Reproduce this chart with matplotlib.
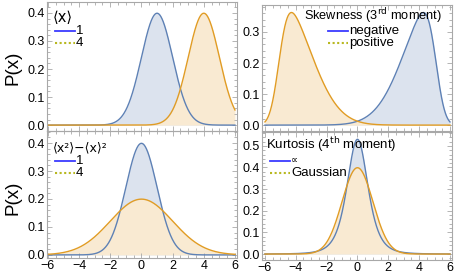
import math
import numpy as np
import matplotlib
matplotlib.use('Agg')
import matplotlib.pyplot as plt
from matplotlib.ticker import MultipleLocator

# ---------------- data ----------------
x_ticks = [-6, -4, -2, 0, 2, 4, 6]
# panel 1: mean
mean_labels = ['1', '4']
mean_mu = [1.0, 4.0]
mean_sd = [1.0, 1.0]
# panel 2: skewness (skew-normal location, scale, shape)
skew_labels = ['negative', 'positive']
skew_loc = [5.08, -5.08]
skew_scale = [1.92, 1.92]
skew_shape = [-4.0, 4.0]
# panel 3: variance
var_labels = ['1', '4']
var_mu = [0.0, 0.0]
var_var = [1.0, 4.0]
# panel 4: kurtosis (unit-variance Student t, dof; inf = Gaussian)
kurt_labels = ['\u221d', 'Gaussian']
kurt_dof = [4.0, np.inf]

# ---------------- style ----------------
C_BLUE = '#5e81b5'
C_ORANGE = '#e19c24'
F_BLUE = '#dce3ee'
F_ORANGE = '#f9ead2'
LEG_BLUE = '#3a3aff'
LEG_YEL = '#b8b820'
FRAME = '#a8a8a8'
FONT = ['Liberation Sans', 'DejaVu Sans']
plt.rcParams['font.family'] = FONT

W, H = 460, 276
fig = plt.figure(figsize=(W / 100, H / 100), dpi=100)


def ax_px(l, t, r, b):
    return fig.add_axes([l / W, 1 - b / H, (r - l) / W, (b - t) / H])


def ftext(x, y, s, **kw):
    kw.setdefault('va', 'center')
    kw.setdefault('ha', 'left')
    fig.text(x / W, 1 - y / H, s, **kw)


def fline(x0, x1, y, **kw):
    fig.add_artist(plt.Line2D([x0 / W, x1 / W], [1 - y / H, 1 - y / H], **kw))


def gauss(x, mu, var):
    return np.exp(-(x - mu) ** 2 / (2 * var)) / np.sqrt(2 * np.pi * var)


erf_v = np.vectorize(math.erf)


def skewnorm(x, loc, scale, a):
    z = (x - loc) / scale
    phi = np.exp(-z * z / 2) / np.sqrt(2 * np.pi)
    Phi = 0.5 * (1 + erf_v(a * z / np.sqrt(2)))
    return 2 * phi * Phi / scale


def t_unit(x, nu):
    if np.isinf(nu):
        return gauss(x, 0, 1)
    s = math.sqrt((nu - 2) / nu)
    z = x / s
    c = math.gamma((nu + 1) / 2) / (math.sqrt(nu * math.pi) * math.gamma(nu / 2))
    return c * (1 + z * z / nu) ** (-(nu + 1) / 2) / s


xs = np.linspace(-6, 6, 1201)
colors = [C_BLUE, C_ORANGE]
fills = [F_BLUE, F_ORANGE]


def style(ax, xlim, ylim, ymaj, show_x):
    ax.set_xlim(*xlim)
    ax.set_ylim(*ylim)
    ax.set_xticks(x_ticks)
    ax.xaxis.set_minor_locator(MultipleLocator(0.5))
    ax.yaxis.set_major_locator(MultipleLocator(ymaj))
    ax.yaxis.set_minor_locator(MultipleLocator(ymaj / 5))
    ax.yaxis.set_major_formatter(plt.FuncFormatter(lambda v, p: f'{v:.1f}'))
    ax.xaxis.set_major_formatter(plt.FuncFormatter(lambda v, p: f'{int(round(v))}'.replace('-', '\u2212')))
    for s in ax.spines.values():
        s.set_color(FRAME)
        s.set_linewidth(0.8)
    ax.tick_params(which='both', direction='in', color=FRAME, top=True, right=True,
                   labelsize=9, pad=1.5, width=0.6)
    ax.tick_params(which='major', length=3.5)
    ax.tick_params(which='minor', length=2)
    if not show_x:
        ax.tick_params(axis='x', labelbottom=False)
    ax.set_facecolor('none')


def draw(ax, curves):
    for y, f in zip(curves, fills):
        ax.fill_between(xs, 0, y, color=f, lw=0)
    for y, c in zip(curves, colors):
        ax.plot(xs, y, color=c, lw=1.0)


# top-left: mean
ax1 = ax_px(47, 2, 237, 131)
draw(ax1, [gauss(xs, m, s ** 2) for m, s in zip(mean_mu, mean_sd)])
style(ax1, (-6.06, 6.13), (-0.021, 0.439), 0.1, False)

# top-right: skewness
ax2 = ax_px(262, 5, 452, 131)
draw(ax2, [skewnorm(xs, l, s, a) for l, s, a in zip(skew_loc, skew_scale, skew_shape)])
style(ax2, (-6.19, 6.13), (-0.019, 0.387), 0.1, False)

# bottom-left: variance
ax3 = ax_px(47, 131, 237, 258)
draw(ax3, [gauss(xs, m, v) for m, v in zip(var_mu, var_var)])
style(ax3, (-6.06, 6.13), (-0.011, 0.443), 0.1, True)

# bottom-right: kurtosis
ax4 = ax_px(262, 132, 452, 260)
draw(ax4, [t_unit(xs, nu) for nu in kurt_dof])
style(ax4, (-6.19, 6.13), (-0.0275, 0.564), 0.1, True)

# y labels
ftext(13, 68, 'P(x)', rotation=90, ha='center', fontsize=13.5)
ftext(13, 198, 'P(x)', rotation=90, ha='center', fontsize=13.5)

LEG_FS = 9.5


def legend(x0, ys, labels, sw=20):
    fline(x0, x0 + sw, ys[0], color=LEG_BLUE, lw=1.3)
    fline(x0, x0 + sw, ys[1], color=LEG_YEL, lw=1.5, ls=(0, (1, 1.2)))
    ftext(x0 + sw + 1, ys[0], labels[0], fontsize=LEG_FS)
    ftext(x0 + sw + 1, ys[1], labels[1], fontsize=LEG_FS)


ftext(53, 17, '\u27e8x\u27e9', fontsize=10.5, family=['DejaVu Sans'])
legend(55, [31, 43], mean_labels)

ftext(53, 148, '\u27e8x\u00b2\u27e9\u2212\u27e8x\u27e9\u00b2', fontsize=9, family=['DejaVu Sans'])
legend(55, [161, 173], var_labels)

ftext(304, 16, 'Skewness (3$^{\\rm rd}$ moment)', fontsize=9.2)
legend(328, [31, 43], skew_labels)

ftext(266, 145, 'Kurtosis (4$^{\\rm th}$ moment)', fontsize=LEG_FS)
fline(270, 290, 161, color=LEG_BLUE, lw=1.3)
fline(270, 290, 173, color=LEG_YEL, lw=1.5, ls=(0, (1, 1.2)))
ftext(291, 160, kurt_labels[0], fontsize=7, family=['DejaVu Sans'])
ftext(291, 173, kurt_labels[1], fontsize=LEG_FS)

fig.savefig('out.png', dpi=100)
